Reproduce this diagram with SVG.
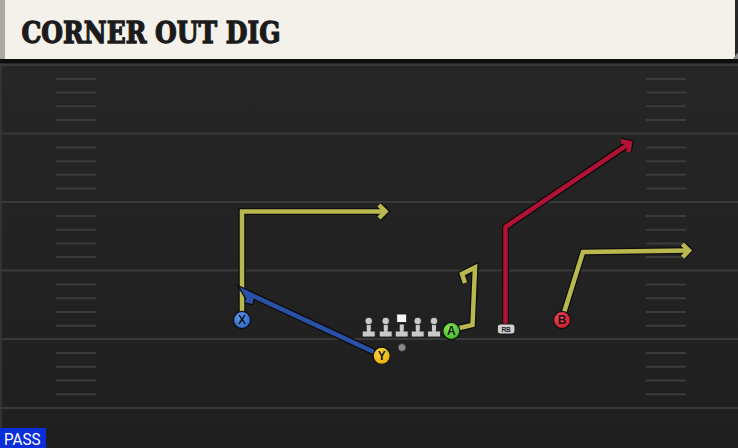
<svg xmlns="http://www.w3.org/2000/svg" width="738" height="448" viewBox="0 0 738 448">
<style>
.yl{stroke:#393939;stroke-width:2;fill:none}
.hm{stroke:#3b3b3b;stroke-width:2;fill:none}
.out{fill:none;stroke:#0d0d0d;stroke-width:7;stroke-linejoin:miter;stroke-linecap:butt}
.olive{fill:none;stroke:#b9b84e;stroke-width:4.5;stroke-linejoin:miter}
.red{fill:none;stroke:#b21234;stroke-width:4.5;stroke-linejoin:miter}
.blue{fill:none;stroke:#2b50a8;stroke-width:4.5;stroke-linejoin:miter}
.pl{stroke:#111;stroke-width:1.3}
.lt{font-family:"Liberation Sans",Arial,sans-serif;font-weight:bold;font-size:12px;fill:#141414;text-anchor:middle}
.ol{fill:#cacaca;stroke:#1e1e1e;stroke-width:0.9}
</style>
<defs>
<radialGradient id="gBlue" cx="0.4" cy="0.35" r="0.7"><stop offset="0" stop-color="#5c9cf0"/><stop offset="1" stop-color="#2a62c4"/></radialGradient>
<radialGradient id="gYel" cx="0.4" cy="0.35" r="0.7"><stop offset="0" stop-color="#fbd840"/><stop offset="1" stop-color="#e2aa08"/></radialGradient>
<radialGradient id="gGrn" cx="0.4" cy="0.35" r="0.7"><stop offset="0" stop-color="#88e85a"/><stop offset="1" stop-color="#3fb424"/></radialGradient>
<radialGradient id="gRed" cx="0.4" cy="0.35" r="0.7"><stop offset="0" stop-color="#f24a58"/><stop offset="1" stop-color="#c41a2c"/></radialGradient>
<linearGradient id="gField" x1="0" y1="0" x2="0" y2="1"><stop offset="0" stop-color="#272727"/><stop offset="1" stop-color="#1f1f1f"/></linearGradient>
<marker id="ahD" markerUnits="userSpaceOnUse" orient="auto" refX="0" refY="0" markerWidth="20" markerHeight="20" overflow="visible"><path d="M-6.5,-6.5 L0,0 L-6.5,6.5" fill="none" stroke="#0d0d0d" stroke-width="7"/></marker>
<marker id="ahO" markerUnits="userSpaceOnUse" orient="auto" refX="0" refY="0" markerWidth="20" markerHeight="20" overflow="visible"><path d="M-6.5,-6.5 L0,0 L-6.5,6.5" fill="none" stroke="#b9b84e" stroke-width="4.5"/></marker>
<marker id="ahR" markerUnits="userSpaceOnUse" orient="auto" refX="0" refY="0" markerWidth="20" markerHeight="20" overflow="visible"><path d="M-6.5,-6.5 L0,0 L-6.5,6.5" fill="none" stroke="#b21234" stroke-width="4.5"/></marker>
<marker id="ahB" markerUnits="userSpaceOnUse" orient="auto" refX="0" refY="0" markerWidth="20" markerHeight="20" overflow="visible"><path d="M-4,-4 L0,0 L-4,4" fill="none" stroke="#2b50a8" stroke-width="3.5"/></marker>
<marker id="ahDs" markerUnits="userSpaceOnUse" orient="auto" refX="0" refY="0" markerWidth="20" markerHeight="20" overflow="visible"><path d="M-4,-4 L0,0 L-4,4" fill="none" stroke="#0d0d0d" stroke-width="6"/></marker>
<g id="lbody"><rect x="-2.5" y="-7" width="5" height="8" class="ol"/><rect x="-6.5" y="0" width="13" height="6" rx="1" class="ol"/><rect x="-1.6" y="-6" width="3.2" height="7" fill="#cacaca"/></g>
</defs>

<!-- field -->
<rect x="0" y="0" width="738" height="448" fill="url(#gField)"/>
<rect x="0" y="60" width="2" height="388" fill="#333"/>
<g id="yardlines">
<line class="yl" x1="0" y1="65" x2="738" y2="65"/>
<line class="yl" x1="0" y1="133.5" x2="738" y2="133.5"/>
<line class="yl" x1="0" y1="202" x2="738" y2="202"/>
<line class="yl" x1="0" y1="270.5" x2="738" y2="270.5"/>
<line class="yl" x1="0" y1="339" x2="738" y2="339"/>
<line class="yl" x1="0" y1="408" x2="738" y2="408"/>
</g>
<g id="hashes">
<path class="hm" d="M56,79H96M56,92.5H96M56,106.2H96M56,120H96M56,147.5H96M56,161.2H96M56,174.8H96M56,188.5H96M56,216H96M56,229.7H96M56,243.4H96M56,257H96M56,284.5H96M56,298.2H96M56,312H96M56,325.7H96M56,353.1H96M56,366.8H96M56,380.5H96M56,394.2H96"/>
<path class="hm" d="M646,79H686M646,92.5H686M646,106.2H686M646,120H686M646,147.5H686M646,161.2H686M646,174.8H686M646,188.5H686M646,216H686M646,229.7H686M646,243.4H686M646,257H686M646,284.5H686M646,298.2H686M646,312H686M646,325.7H686M646,353.1H686M646,366.8H686M646,380.5H686M646,394.2H686"/>
</g>

<!-- header -->
<g id="header">
<rect x="0" y="58" width="738" height="5" fill="#0e0e0e"/>
<rect x="0" y="0" width="735" height="59" fill="#f4f1ea"/>
<rect x="0" y="0" width="5" height="59" fill="#a9a9a6"/>
<path d="M733,59 L738,52 L738,59 Z" fill="#8a8a88"/>
<text x="21.5" y="42.5" font-family="'DejaVu Serif',serif" font-weight="bold" font-size="29" fill="#1b1b1b" stroke="#1b1b1b" stroke-width="1.3" stroke-linejoin="miter" textLength="259" lengthAdjust="spacingAndGlyphs">CORNER OUT DIG</text>
</g>

<!-- connectors -->
<g id="connectors">
<g id="route-x">
<path class="out" d="M242,320 V211.5 H385.5" marker-end="url(#ahD)"/>
<path class="olive" d="M242,320 V211.5 H385.5" marker-end="url(#ahO)"/>
</g>
<g id="route-y">
<path class="out" d="M381.5,355.5 L245,292 L251,302" stroke-width="6" marker-end="url(#ahDs)"/>
<path class="blue" d="M381.5,355.5 L245,292 L251,302" marker-end="url(#ahB)"/>
</g>
<g id="route-a">
<path class="out" d="M451,330 L472.5,325 L475,267.5 L462,274 L465,283"/>
<path class="olive" d="M451,330 L472.5,325 L475,267.5 L462,274 L465,283"/>
</g>
<g id="route-rb">
<path class="out" d="M505.5,328 V227 L630,143" marker-end="url(#ahD)"/>
<path class="red" d="M505.5,328 V227 L630,143" marker-end="url(#ahR)"/>
</g>
<g id="route-b">
<path class="out" d="M562,319 L583,252 L689,250.5" marker-end="url(#ahD)"/>
<path class="olive" d="M562,319 L583,252 L689,250.5" marker-end="url(#ahO)"/>
</g>
</g>

<!-- offensive line -->
<g id="lt"><use href="#lbody" x="368.7" y="331"/><circle cx="368.7" cy="321" r="3.8" class="ol"/></g>
<g id="lg"><use href="#lbody" x="385.7" y="331"/><circle cx="385.7" cy="321" r="3.8" class="ol"/></g>
<g id="c"><use href="#lbody" x="401.7" y="331"/><rect x="396.7" y="314" width="10" height="8.5" fill="#f7f7f7" stroke="#1e1e1e" stroke-width="0.9"/></g>
<g id="rg"><use href="#lbody" x="417.7" y="331"/><circle cx="417.7" cy="321" r="3.8" class="ol"/></g>
<g id="rt"><use href="#lbody" x="434" y="331"/><circle cx="434" cy="321" r="3.8" class="ol"/></g>
<g id="qb"><circle cx="402" cy="347.5" r="4" fill="#8a8a8a" stroke="#222" stroke-width="0.8"/></g>

<!-- players -->
<g id="player-x"><circle class="pl" cx="242" cy="320" r="8.6" fill="url(#gBlue)"/><text class="lt" x="242" y="324.3">X</text></g>
<g id="player-y"><circle class="pl" cx="381.7" cy="355.8" r="8.6" fill="url(#gYel)"/><text class="lt" x="381.7" y="360.1">Y</text></g>
<g id="player-a"><circle class="pl" cx="451.3" cy="331" r="8.6" fill="url(#gGrn)"/><text class="lt" x="451.3" y="335.3">A</text></g>
<g id="player-b"><circle class="pl" cx="562" cy="320" r="8.6" fill="url(#gRed)"/><text class="lt" x="562" y="324.3">B</text></g>
<g id="player-rb"><rect x="497.3" y="324" width="17.7" height="10" rx="3" fill="#cfcfcf" stroke="#1a1a1a" stroke-width="1"/><text x="506.1" y="331.5" font-family="'Liberation Sans',Arial,sans-serif" font-size="6.5" font-weight="bold" fill="#222" text-anchor="middle">RB</text></g>

<!-- pass tag -->
<g id="pass-tag"><rect x="0" y="428" width="46" height="20" fill="#0b2ed8"/><text x="4" y="445" font-family="Roboto,'Liberation Sans',sans-serif" font-size="16" fill="#ffffff" textLength="36.5" lengthAdjust="spacingAndGlyphs">PASS</text></g>
</svg>
